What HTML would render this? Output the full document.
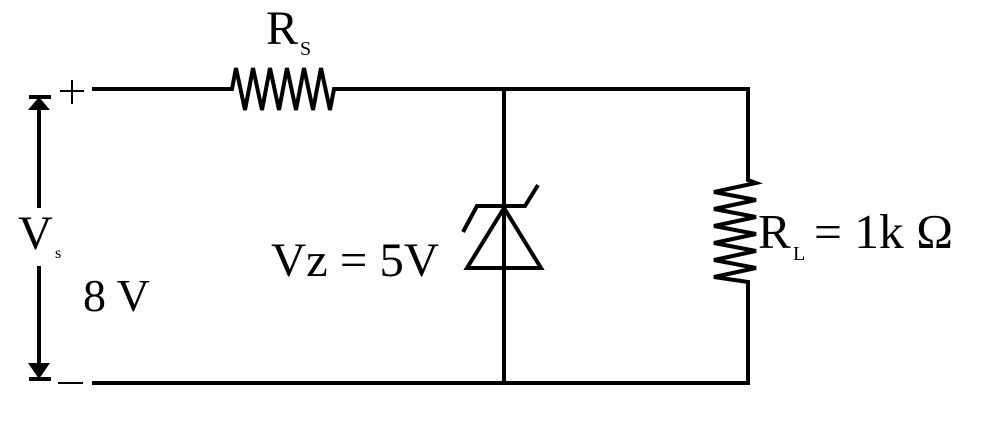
<!DOCTYPE html>
<html><head><style>
body{margin:0;background:#fff;width:1001px;height:433px;overflow:hidden}
svg{display:block}
text{font-family:"Liberation Serif",serif;fill:#000}
</style></head><body>
<svg width="1001" height="433" viewBox="0 0 1001 433">
<g stroke="#000" stroke-width="4" fill="none" stroke-linejoin="miter">
<polyline points="92,89 232,89 236,68 245,110 253,68 262,110 270,68 279,110 287,68 296,110 304,68 313,110 321,68 330,110 334,89 748,89 748,180 756,183 714,192 756,200 714,209 756,217 714,226 756,234 714,243 756,251 714,260 756,268 714,277 748,282 748,383 92,383"/>
<line x1="504" y1="89" x2="504" y2="383"/>
<polygon points="504,208 467,268 541,268"/>
<polyline points="463,232 477,206 525,206 538,185"/>
<line x1="39" y1="100" x2="39" y2="208"/>
<line x1="39" y1="266" x2="39" y2="370"/>
<line x1="29" y1="97" x2="51" y2="97"/>
<line x1="29" y1="379" x2="51" y2="379"/>
<line x1="60" y1="91" x2="84" y2="91" stroke-width="2"/>
<line x1="72" y1="80" x2="72" y2="104" stroke-width="2"/>
<line x1="58" y1="383" x2="83" y2="383" stroke-width="2"/>
</g>
<polygon points="39,97 28,110 50,110" fill="#000"/>
<polygon points="39,379 28,363 50,363" fill="#000"/>
<text x="266" y="44" font-size="48">R</text>
<text x="300" y="55" font-size="20">S</text>
<text x="18" y="249" font-size="48">V</text>
<text x="55" y="258" font-size="16">s</text>
<text x="83" y="311" font-size="46">8 V</text>
<text x="271" y="276" font-size="48" textLength="168" lengthAdjust="spacingAndGlyphs">Vz = 5V</text>
<text x="758" y="248" font-size="49">R</text>
<text x="793" y="260" font-size="20">L</text>
<text x="814" y="248" font-size="49" textLength="139" lengthAdjust="spacingAndGlyphs">= 1k Ω</text>
</svg>
</body></html>
